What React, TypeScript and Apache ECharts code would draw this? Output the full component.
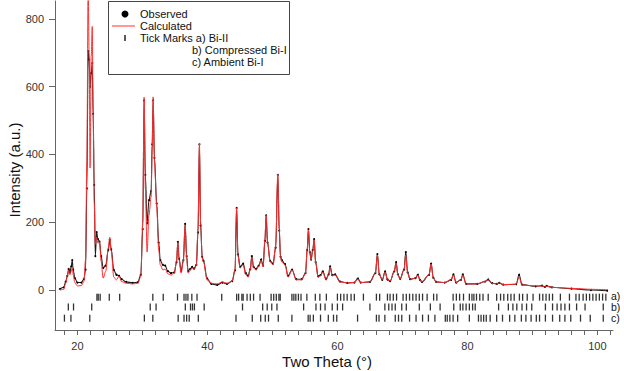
import React, { useEffect, useRef } from "react";
import * as echarts from "echarts";

// ---- Data ----
const twoTheta = [
  17.3, 17.9, 18.2, 18.45, 18.65, 18.85, 19.05, 19.2, 19.35, 19.6,
  20.0, 20.6, 21.0, 21.25, 21.45, 21.65, 21.8, 21.95, 22.12, 22.28,
  22.42, 22.58, 22.75, 22.95, 23.15, 23.4, 23.65, 23.95, 24.35, 24.75,
  24.98, 25.2, 25.6, 26.0, 26.4, 26.8, 27.5, 28.5, 29.3, 29.75,
  30.05, 30.26, 30.45, 30.72, 31.0, 31.34, 31.5, 31.65, 31.85, 32.2,
  32.5, 32.75, 33.15, 33.5, 33.9, 34.4, 34.9, 35.25, 35.45, 35.65,
  35.95, 36.3, 36.57, 36.8, 37.03, 37.35, 37.65, 37.95, 38.3, 38.55,
  38.77, 38.95, 39.2, 39.4, 39.95, 40.6, 41.5, 42.3, 43.0, 43.8,
  44.25, 44.49, 44.7, 45.03, 45.5, 45.9, 46.26, 46.6, 46.83, 47.1,
  47.49, 47.9, 48.26, 48.57, 48.85, 49.03, 49.25, 49.65, 50.1, 50.5,
  50.83, 51.05, 51.25, 51.45, 51.95, 52.4, 53.03, 53.65, 54.5, 55.1,
  55.35, 55.54, 55.75, 55.95, 56.2, 56.42, 56.65, 57.03, 57.4, 57.75,
  58.26, 58.65, 58.88, 59.2, 59.65, 60.4, 61.5, 62.6, 63.14, 63.6,
  65.0, 65.85, 66.15, 66.45, 66.9, 67.34, 67.7, 68.1, 68.75, 69.03,
  69.3, 69.65, 70.25, 70.52, 70.8, 71.18, 72.0, 72.37, 72.7, 73.0,
  74.1, 74.42, 74.75, 75.18, 76.5, 77.5, 77.85, 78.26, 79.0, 79.29,
  79.8, 81.5, 82.7, 83.18, 83.8, 84.5, 84.88, 85.5, 87.5, 87.95,
  88.4, 90.5, 91.45, 91.9, 92.2, 93.0, 96.0, 99.0, 101.5,
];

const calculated = [
  0, 2, 20, 42, 58, 45, 55, 65, 45, 22,
  12, 13, 25, 90, 380, 900, 700, 360, 690, 778,
  520, 260, 135, 155, 138, 142, 85, 35, 55, 125,
  156, 115, 38, 30, 41, 25, 20, 18, 20, 40,
  200, 569, 300, 112, 220, 275, 420, 570, 380, 245,
  120, 74, 59, 62, 48, 44, 50, 85, 140, 88,
  50, 85, 192, 95, 50, 58, 66, 60, 72, 180,
  434, 200, 95, 82, 30, 20, 18, 24, 20, 26,
  60, 242, 100, 65, 74, 45, 38, 60, 97, 65,
  59, 70, 88, 68, 150, 221, 140, 83, 74, 130,
  342, 180, 95, 83, 74, 38, 59, 30, 30, 50,
  120, 177, 110, 88, 115, 148, 80, 38, 42, 53,
  30, 45, 68, 42, 44, 24, 21, 22, 32, 22,
  24, 50, 103, 45, 30, 53, 30, 26, 55, 80,
  45, 32, 60, 103, 50, 32, 35, 44, 30, 24,
  45, 77, 35, 24, 22, 30, 44, 22, 30, 44,
  18, 18, 25, 30, 20, 18, 21, 16, 17, 38,
  15, 12, 12, 9, 11, 8, 5, 2, 1,
];

const observed = [
  3, 8, 25, 42, 62, 52, 70, 88, 60, 35,
  22, 22, 32, 60, 300, 705, 680, 600, 640, 670,
  520, 310, 100, 171, 150, 143, 100, 65, 72, 118,
  148, 120, 59, 45, 42, 32, 24, 21, 23, 45,
  180, 560, 340, 197, 265, 292, 430, 560, 390, 255,
  140, 88, 74, 72, 56, 50, 52, 82, 142, 92,
  56, 88, 195, 100, 56, 62, 68, 63, 74, 170,
  430, 190, 98, 86, 34, 18, 15, 22, 18, 26,
  58, 242, 105, 68, 78, 50, 42, 62, 100, 68,
  62, 72, 90, 72, 145, 220, 140, 86, 78, 125,
  340, 175, 98, 88, 76, 42, 60, 32, 32, 50,
  118, 180, 112, 90, 118, 150, 82, 40, 44, 55,
  32, 46, 70, 44, 46, 25, 21, 22, 34, 22,
  24, 50, 106, 46, 30, 55, 31, 26, 55, 82,
  46, 33, 60, 112, 52, 32, 35, 45, 30, 24,
  45, 78, 36, 24, 22, 30, 46, 22, 30, 46,
  18, 18, 25, 31, 20, 18, 21, 16, 17, 45,
  16, 11, 13, 9, 12, 8, 4, 0, -2,
];

// Bragg reflection positions (2θ) for each phase
const ticksBiII = [
  23.0, 23.2, 23.5, 24.9, 26.5, 31.6, 33.2, 35.4, 36.4, 36.7, 37.0, 37.6, 38.4,
  42.2, 44.5, 44.8, 45.3, 45.5, 46.1, 46.6, 47.1, 48.1, 49.8, 50.2, 50.6, 51.0,
  51.2, 53.0, 53.3, 53.6, 54.0, 54.4, 55.3, 56.6, 57.3, 58.3, 60.0, 60.5, 61.0,
  61.5, 62.1, 62.6, 64.0, 66.0, 66.5, 67.7, 68.1, 68.6, 69.1, 70.1, 70.6, 71.1,
  71.6, 72.1, 72.6, 73.1, 73.8, 74.8, 75.3, 77.8, 78.3, 78.8, 79.4, 80.3, 80.7,
  81.0, 81.4, 81.9, 82.4, 83.2, 84.5, 85.1, 85.6, 86.2, 86.7, 87.2, 88.0, 88.5,
  89.2, 90.1, 91.1, 91.6, 92.1, 92.6, 93.1, 94.3, 95.7, 96.7, 97.2, 97.8, 98.3,
  98.8, 99.3, 99.8, 100.3, 100.8, 101.3,
];
const ticksCompressed = [
  18.6, 19.4, 22.2, 31.2, 32.1, 36.6, 37.4, 37.7, 38.0, 39.5, 45.4, 48.5, 49.2,
  49.9, 50.7, 54.8, 56.7, 57.4, 58.1, 59.2, 60.0, 60.8, 65.0, 67.3, 67.9, 68.4,
  68.9, 69.9, 70.6, 72.6, 74.3, 75.8, 77.9, 78.9, 79.3, 79.8, 80.3, 80.8, 81.2,
  84.8, 86.3, 87.0, 87.6, 88.4, 89.1, 89.9, 92.0, 93.1, 93.8, 94.4, 95.0, 95.7,
  96.8, 98.1, 100.9,
];
const ticksAmbient = [
  18.0, 19.0, 21.9, 30.3, 31.6, 35.5, 36.4, 36.8, 37.2, 38.6, 44.4, 46.9, 48.2,
  48.9, 49.4, 50.9, 53.0, 55.5, 55.8, 56.3, 57.4, 58.6, 59.4, 59.9, 63.1, 66.0,
  66.4, 67.3, 68.9, 69.4, 69.9, 71.1, 72.1, 73.1, 74.0, 75.0, 76.6, 76.9, 77.3,
  77.8, 78.5, 80.3, 81.7, 82.1, 82.5, 82.9, 83.5, 84.5, 85.4, 86.5, 87.3, 88.3,
  89.0, 89.8, 90.6, 91.1, 92.0, 93.1, 94.2, 95.0, 95.9, 97.4, 98.9, 100.9,
];
const tickRowLevels = [-21, -50, -83];
const tickRowLabels = ["a)", "b)", "c)"];

const xLabelValues = [20, 40, 60, 80, 100];
const xTickValues = [
  18, 20, 22, 24, 26, 28, 30, 32, 34, 36, 38, 40, 42, 44, 46, 48, 50, 52, 54,
  56, 58, 60, 62, 64, 66, 68, 70, 72, 74, 76, 78, 80, 82, 84, 86, 88, 90, 92,
  94, 96, 98, 100, 102,
];
const yTickValues = [0, 200, 400, 600, 800];

const FONT = "Liberation Sans";

export default function App() {
  const ref = useRef<HTMLDivElement>(null);

  useEffect(() => {
    if (!ref.current) return;
    const chart = echarts.init(ref.current, undefined, { renderer: "svg" });

    const obsData = twoTheta.map((x, i) => [x, observed[i]]);
    const calcData = twoTheta.map((x, i) => [x, calculated[i]]);
    const rows = [ticksBiII, ticksCompressed, ticksAmbient];

    const tickSeries = rows.map((row, r) => ({
      type: "scatter",
      name: "Tick Marks " + tickRowLabels[r],
      data: row.map((x) => [x, tickRowLevels[r]]),
      symbol: "rect",
      symbolSize: [1.3, 7],
      itemStyle: { color: "#000" },
      silent: true,
      z: 4,
    }));

    const textEl = (x: number, y: number, text: string, size = 11) => ({
      type: "text",
      x,
      y,
      z: 20,
      style: {
        text,
        fill: "#111",
        font: `${size}px "${FONT}"`,
        verticalAlign: "middle",
      },
    });

    chart.setOption({
      animation: false,
      backgroundColor: "#fff",
      grid: { left: 55, right: 11, top: 1, bottom: 41, containLabel: false },
      xAxis: {
        type: "value",
        min: 16.55,
        max: 102.4,
        axisLine: { show: true, onZero: false, lineStyle: { color: "#666", width: 1 } },
        axisTick: {
          show: true,
          inside: false,
          length: 5,
          customValues: xTickValues,
          lineStyle: { color: "#666" },
        },
        axisLabel: {
          customValues: xLabelValues,
          margin: 10,
          color: "#333",
          fontSize: 11,
          fontFamily: FONT,
        },
        splitLine: { show: false },
      },
      yAxis: {
        type: "value",
        min: -118,
        max: 853,
        axisLine: { show: true, onZero: false, lineStyle: { color: "#666", width: 1 } },
        axisTick: {
          show: true,
          inside: false,
          length: 6,
          customValues: yTickValues,
          lineStyle: { color: "#666" },
        },
        axisLabel: {
          customValues: yTickValues,
          margin: 11,
          color: "#333",
          fontSize: 11,
          fontFamily: FONT,
        },
        splitLine: { show: false },
      },
      series: [
        {
          type: "line",
          name: "Observed",
          data: obsData,
          showSymbol: true,
          symbol: "circle",
          symbolSize: 2,
          smooth: 0.35,
          smoothMonotone: "x",
          itemStyle: { color: "#000" },
          lineStyle: { color: "#1a1a1a", width: 1.1 },
          clip: true,
          silent: true,
          z: 2,
        },
        {
          type: "line",
          name: "Calculated",
          data: calcData,
          showSymbol: false,
          symbol: "none",
          smooth: 0.35,
          smoothMonotone: "x",
          lineStyle: { color: "#ff3030", width: 1 },
          clip: true,
          silent: true,
          z: 3,
        },
        ...tickSeries,
      ],
      graphic: [
        {
          type: "rect",
          z: 19,
          shape: { x: 108.5, y: 1.5, width: 181, height: 73 },
          style: { fill: "#fff", stroke: "#444", lineWidth: 1 },
        },
        { type: "circle", z: 20, shape: { cx: 125, cy: 14, r: 3.5 }, style: { fill: "#000" } },
        textEl(140, 14, "Observed"),
        {
          type: "line",
          z: 20,
          shape: { x1: 112, y1: 26, x2: 135, y2: 26 },
          style: { stroke: "#ff3030", lineWidth: 1 },
        },
        textEl(140, 26, "Calculated"),
        {
          type: "line",
          z: 20,
          shape: { x1: 125, y1: 35, x2: 125, y2: 41 },
          style: { stroke: "#000", lineWidth: 1.3 },
        },
        textEl(140, 38, "Tick Marks a) Bi-II"),
        textEl(192, 50, "b) Compressed Bi-I"),
        textEl(192, 62, "c) Ambient Bi-I"),
        textEl(611, 296, tickRowLabels[0], 10.5),
        textEl(611, 307, tickRowLabels[1], 10.5),
        textEl(611, 318, tickRowLabels[2], 10.5),
        {
          type: "text",
          x: 327,
          y: 361,
          z: 20,
          style: {
            text: "Two Theta (°)",
            fill: "#111",
            font: `15px "${FONT}"`,
            align: "center",
            verticalAlign: "middle",
          },
        },
        {
          type: "text",
          x: 14,
          y: 170,
          rotation: Math.PI / 2,
          z: 20,
          style: {
            text: "Intensity (a.u.)",
            fill: "#111",
            font: `15px "${FONT}"`,
            align: "center",
            verticalAlign: "middle",
          },
        },
      ],
    });

    return () => chart.dispose();
  }, []);

  return (
    <div
      ref={ref}
      style={{ position: "fixed", left: 0, top: 0, width: 624, height: 371, background: "#fff" }}
    />
  );
}
